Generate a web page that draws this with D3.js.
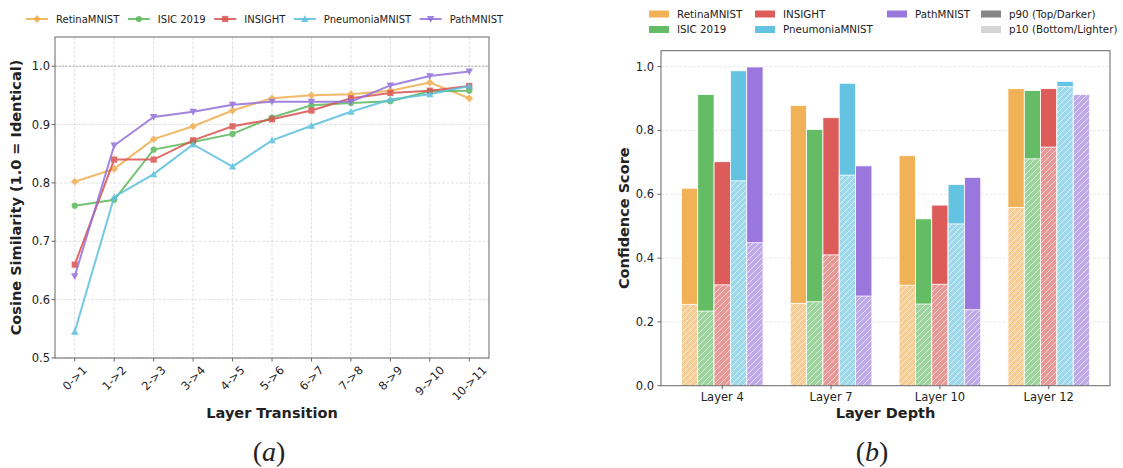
<!DOCTYPE html>
<html>
<head>
<meta charset="utf-8">
<script src="https://cdn.jsdelivr.net/npm/d3@7"></script>
<style>
  body { margin: 0; background: #fff; }
  svg text { font-family: "DejaVu Sans", sans-serif; fill: #222; }
</style>
</head>
<body>
<div id="chart"></div>
<script>
// ---- data ----
var datasets = ["RetinaMNIST", "ISIC 2019", "INSIGHT", "PneumoniaMNIST", "PathMNIST"];
var colors = ["#f0ad4e", "#5cb85c", "#d9534f", "#5bc0de", "#9370db"];
var markers = ["diamond", "circle", "square", "triUp", "triDown"];

var transitions = ["0->1", "1->2", "2->3", "3->4", "4->5", "5->6", "6->7", "7->8", "8->9", "9->10", "10->11"];
var simRetina    = [0.802, 0.824, 0.875, 0.897, 0.924, 0.945, 0.950, 0.952, 0.958, 0.972, 0.945];
var simIsic      = [0.761, 0.771, 0.857, 0.870, 0.884, 0.912, 0.933, 0.937, 0.940, 0.957, 0.958];
var simInsight   = [0.660, 0.840, 0.840, 0.873, 0.897, 0.909, 0.924, 0.945, 0.954, 0.958, 0.966];
var simPneumonia = [0.545, 0.776, 0.815, 0.866, 0.828, 0.873, 0.898, 0.922, 0.943, 0.952, 0.966];
var simPath      = [0.640, 0.864, 0.913, 0.922, 0.934, 0.939, 0.939, 0.939, 0.967, 0.983, 0.991];
var simTicks = [0.5, 0.6, 0.7, 0.8, 0.9, 1.0];

var layers = ["Layer 4", "Layer 7", "Layer 10", "Layer 12"];
var p90Retina    = [0.619, 0.878, 0.721, 0.931];
var p10Retina    = [0.255, 0.258, 0.315, 0.559];
var p90Isic      = [0.913, 0.803, 0.523, 0.925];
var p10Isic      = [0.234, 0.263, 0.256, 0.711];
var p90Insight   = [0.702, 0.840, 0.566, 0.931];
var p10Insight   = [0.316, 0.410, 0.318, 0.748];
var p90Pneumonia = [0.987, 0.948, 0.631, 0.954];
var p10Pneumonia = [0.642, 0.660, 0.507, 0.937];
var p90Path      = [0.999, 0.689, 0.653, 0.913];
var p10Path      = [0.448, 0.281, 0.238, 0.913];
var confTicks = [0.0, 0.2, 0.4, 0.6, 0.8, 1.0];

var sims = [simRetina, simIsic, simInsight, simPneumonia, simPath];
var p90s = [p90Retina, p90Isic, p90Insight, p90Pneumonia, p90Path];
var p10s = [p10Retina, p10Isic, p10Insight, p10Pneumonia, p10Path];

var W = 1123, H = 468;
var svg = d3.select("#chart").append("svg")
    .attr("width", W)
    .attr("height", H);

// hatch for the p10 bars
var defs = svg.append("defs");
defs.append("pattern")
    .attr("id", "hatch")
    .attr("patternUnits", "userSpaceOnUse")
    .attr("width", 6).attr("height", 6)
  .append("path")
    .attr("d", "M0,6 L6,0 M-1.5,1.5 L1.5,-1.5 M4.5,7.5 L7.5,4.5")
    .attr("stroke", "#fff")
    .attr("stroke-opacity", 0.75)
    .attr("stroke-width", 0.8);

function markerPath(type, s) {
    // s ~ marker size in px
    var h = s / 2;
    if (type == "circle") return d3.symbol().type(d3.symbolCircle).size(Math.PI * h * h)();
    if (type == "square") return "M" + (-h) + "," + (-h) + "H" + h + "V" + h + "H" + (-h) + "Z";
    if (type == "diamond") { var d = h * 1.25; return "M0," + (-d) + "L" + d + ",0L0," + d + "L" + (-d) + ",0Z"; }
    var t = h * 1.2;
    if (type == "triUp") return "M0," + (-t) + "L" + t + "," + (t * 0.8) + "L" + (-t) + "," + (t * 0.8) + "Z";
    return "M0," + t + "L" + t + "," + (-t * 0.8) + "L" + (-t) + "," + (-t * 0.8) + "Z";
}

// ================= (a) line chart =================
var left = {x0: 55, x1: 489, y0: 37, y1: 358};
var x = d3.scaleLinear().domain([-0.5, transitions.length - 0.5]).range([left.x0, left.x1]);
var y = d3.scaleLinear().domain([0.5, 1.05]).range([left.y1, left.y0]);

var ga = svg.append("g");

// grid
ga.append("g").selectAll("line.vg")
    .data(transitions)
    .join("line")
    .attr("x1", (d, i) => x(i)).attr("x2", (d, i) => x(i))
    .attr("y1", left.y0).attr("y2", left.y1)
    .attr("stroke", "#d8d8d8").attr("stroke-width", 0.8)
    .attr("stroke-dasharray", "3,1.5");
ga.append("g").selectAll("line.hg")
    .data(simTicks)
    .join("line")
    .attr("x1", left.x0).attr("x2", left.x1)
    .attr("y1", d => y(d)).attr("y2", d => y(d))
    .attr("stroke", "#d8d8d8").attr("stroke-width", 0.8)
    .attr("stroke-dasharray", "3,1.5");
// reference line at 1.0
ga.append("line")
    .attr("x1", left.x0).attr("x2", left.x1)
    .attr("y1", y(1.0)).attr("y2", y(1.0))
    .attr("stroke", "#999").attr("stroke-width", 0.8)
    .attr("stroke-dasharray", "2,1.5");

// series
var line = d3.line().x((d, i) => x(i)).y(d => y(d));
sims.forEach(function(vals, k) {
    var g = ga.append("g").attr("opacity", 0.85);
    g.append("path")
        .attr("d", line(vals))
        .attr("fill", "none")
        .attr("stroke", colors[k])
        .attr("stroke-width", 2);
    g.selectAll("path.m")
        .data(vals)
        .join("path")
        .attr("transform", (d, i) => "translate(" + x(i) + "," + y(d) + ")")
        .attr("d", markerPath(markers[k], 6.2))
        .attr("fill", colors[k]);
});

// frame
ga.append("rect")
    .attr("x", left.x0).attr("y", left.y0)
    .attr("width", left.x1 - left.x0).attr("height", left.y1 - left.y0)
    .attr("fill", "none").attr("stroke", "#666").attr("stroke-width", 1);

// y ticks
ga.append("g").selectAll("line.yt")
    .data(simTicks).join("line")
    .attr("x1", left.x0 - 3.5).attr("x2", left.x0)
    .attr("y1", d => y(d)).attr("y2", d => y(d))
    .attr("stroke", "#666");
ga.append("g").selectAll("text.yt")
    .data(simTicks).join("text")
    .attr("x", left.x0 - 5).attr("y", d => y(d))
    .attr("dy", "0.35em")
    .attr("text-anchor", "end")
    .attr("font-size", "11.5px")
    .text(d => d.toFixed(1));

// x ticks (rotated 45, centered on tick)
ga.append("g").selectAll("line.xt")
    .data(transitions).join("line")
    .attr("x1", (d, i) => x(i)).attr("x2", (d, i) => x(i))
    .attr("y1", left.y1).attr("y2", left.y1 + 3.5)
    .attr("stroke", "#666");
ga.append("g").selectAll("text.xt")
    .data(transitions).join("text")
    .attr("text-anchor", "middle")
    .attr("dy", "0.35em")
    .attr("font-size", "11.5px")
    .text(d => d)
    .attr("transform", function(d, i) {
        var w = this.getComputedTextLength(), h = 11.5;
        var half = (w + h) * Math.SQRT1_2 / 2;
        return "translate(" + x(i) + "," + (left.y1 + 6 + half) + ") rotate(-45)";
    });

ga.append("text")
    .attr("x", (left.x0 + left.x1) / 2).attr("y", 418)
    .attr("text-anchor", "middle")
    .attr("font-size", "14.5px").attr("font-weight", "bold")
    .text("Layer Transition");
ga.append("text")
    .attr("transform", "translate(21," + ((left.y0 + left.y1) / 2) + ") rotate(-90)")
    .attr("text-anchor", "middle")
    .attr("font-size", "14.5px").attr("font-weight", "bold")
    .text("Cosine Similarity (1.0 = Identical)");

// legend (a)
var lgA = ga.append("g").attr("transform", "translate(26,19)");
var cx = 0;
datasets.forEach(function(name, k) {
    var it = lgA.append("g").attr("transform", "translate(" + cx + ",0)");
    it.append("line").attr("x1", 0).attr("x2", 22)
        .attr("stroke", colors[k]).attr("stroke-width", 2).attr("opacity", 0.85);
    it.append("path").attr("transform", "translate(11,0)")
        .attr("d", markerPath(markers[k], 6.2)).attr("fill", colors[k]).attr("opacity", 0.85);
    var t = it.append("text").attr("x", 30).attr("dy", "0.35em")
        .attr("font-size", "10px").text(name);
    cx += 30 + t.node().getComputedTextLength() + 8.5;
});

// ================= (b) bar chart =================
var right = {x0: 661, x1: 1110, y0: 50.7, y1: 385.7};
var x2 = d3.scaleLinear().domain([-0.5625, layers.length - 1 + 0.5625]).range([right.x0, right.x1]);
var y2 = d3.scaleLinear().domain([0, 1.05]).range([right.y1, right.y0]);
var bw = 0.15;

var gb = svg.append("g");

gb.append("g").selectAll("line")
    .data(confTicks.slice(1)).join("line")
    .attr("x1", right.x0).attr("x2", right.x1)
    .attr("y1", d => y2(d)).attr("y2", d => y2(d))
    .attr("stroke", "#e2e2e2").attr("stroke-width", 0.8)
    .attr("stroke-dasharray", "3,1.5");

datasets.forEach(function(name, k) {
    var off = (k - 2) * bw - bw / 2;
    var g = gb.append("g");
    // p90 (darker) first
    g.selectAll("rect.p90")
        .data(p90s[k]).join("rect")
        .attr("x", (d, i) => x2(i + off)).attr("width", x2(bw) - x2(0))
        .attr("y", d => y2(d)).attr("height", d => y2(0) - y2(d))
        .attr("fill", colors[k]).attr("fill-opacity", 0.95)
        .attr("stroke", "#fff").attr("stroke-width", 0.8);
    // p10 (lighter, hatched) on top
    g.selectAll("rect.p10")
        .data(p10s[k]).join("rect")
        .attr("x", (d, i) => x2(i + off)).attr("width", x2(bw) - x2(0))
        .attr("y", d => y2(d)).attr("height", d => y2(0) - y2(d))
        .attr("fill", "#fff");
    g.selectAll("rect.p10c")
        .data(p10s[k]).join("rect")
        .attr("x", (d, i) => x2(i + off)).attr("width", x2(bw) - x2(0))
        .attr("y", d => y2(d)).attr("height", d => y2(0) - y2(d))
        .attr("fill", colors[k]).attr("fill-opacity", 0.6);
    g.selectAll("rect.p10h")
        .data(p10s[k]).join("rect")
        .attr("x", (d, i) => x2(i + off)).attr("width", x2(bw) - x2(0))
        .attr("y", d => y2(d)).attr("height", d => y2(0) - y2(d))
        .attr("fill", "url(#hatch)")
        .attr("stroke", "#fff").attr("stroke-width", 0.8);
});

gb.append("rect")
    .attr("x", right.x0).attr("y", right.y0)
    .attr("width", right.x1 - right.x0).attr("height", right.y1 - right.y0)
    .attr("fill", "none").attr("stroke", "#666").attr("stroke-width", 1);

gb.append("g").selectAll("line.yt")
    .data(confTicks).join("line")
    .attr("x1", right.x0 - 3.5).attr("x2", right.x0)
    .attr("y1", d => y2(d)).attr("y2", d => y2(d))
    .attr("stroke", "#666");
gb.append("g").selectAll("text.yt")
    .data(confTicks).join("text")
    .attr("x", right.x0 - 7).attr("y", d => y2(d))
    .attr("dy", "0.35em").attr("text-anchor", "end")
    .attr("font-size", "11.5px")
    .text(d => d.toFixed(1));

gb.append("g").selectAll("line.xt")
    .data(layers).join("line")
    .attr("x1", (d, i) => x2(i)).attr("x2", (d, i) => x2(i))
    .attr("y1", right.y1).attr("y2", right.y1 + 3.5)
    .attr("stroke", "#666");
gb.append("g").selectAll("text.xt")
    .data(layers).join("text")
    .attr("x", (d, i) => x2(i)).attr("y", right.y1 + 15)
    .attr("text-anchor", "middle")
    .attr("font-size", "11.5px")
    .text(d => d);

gb.append("text")
    .attr("x", (right.x0 + right.x1) / 2).attr("y", 418)
    .attr("text-anchor", "middle")
    .attr("font-size", "14.5px").attr("font-weight", "bold")
    .text("Layer Depth");
gb.append("text")
    .attr("transform", "translate(629," + ((right.y0 + right.y1) / 2) + ") rotate(-90)")
    .attr("text-anchor", "middle")
    .attr("font-size", "14.5px").attr("font-weight", "bold")
    .text("Confidence Score");

// legend (b): 4 columns, 2 rows
var legB = [
    {name: "RetinaMNIST", fill: colors[0], col: 0, row: 0},
    {name: "ISIC 2019", fill: colors[1], col: 0, row: 1},
    {name: "INSIGHT", fill: colors[2], col: 1, row: 0},
    {name: "PneumoniaMNIST", fill: colors[3], col: 1, row: 1},
    {name: "PathMNIST", fill: colors[4], col: 2, row: 0},
    {name: "p90 (Top/Darker)", fill: "#808080", col: 3, row: 0},
    {name: "p10 (Bottom/Lighter)", fill: "#d3d3d3", col: 3, row: 1}
];
var colX = [649, 755, 887, 981];
var rowY = [14, 29.5];
var lgB = gb.append("g");
legB.forEach(function(d) {
    lgB.append("rect")
        .attr("x", colX[d.col]).attr("y", rowY[d.row] - 3.5)
        .attr("width", 20).attr("height", 7)
        .attr("fill", d.fill).attr("fill-opacity", 0.95);
    lgB.append("text")
        .attr("x", colX[d.col] + 28).attr("y", rowY[d.row])
        .attr("dy", "0.35em").attr("font-size", "10.3px")
        .text(d.name);
});

// captions
[["a", 269], ["b", 872]].forEach(function(c) {
    var t = svg.append("text")
        .attr("x", c[1]).attr("y", 461)
        .attr("text-anchor", "middle")
        .attr("font-size", "28px")
        .style("font-family", "'Liberation Serif', 'DejaVu Serif', serif");
    t.append("tspan").text("(");
    t.append("tspan").attr("font-style", "italic").text(c[0]);
    t.append("tspan").text(")");
});
</script>
</body>
</html>
